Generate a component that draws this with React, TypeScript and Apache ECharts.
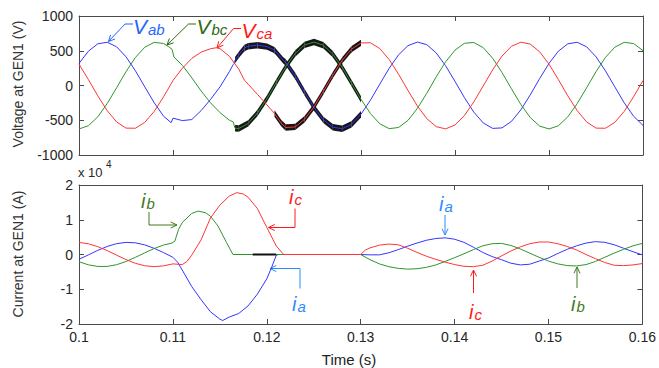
import React, { useEffect, useRef } from 'react';
import * as echarts from 'echarts';

// ---------- data (time in s, voltage in V, current in 1e4 A) ----------
const vab: [number, number][] = [
  [0.100, 318], [0.101, 494], [0.102, 600], [0.103, 622], [0.104, 557], [0.105, 413], [0.106, 212], [0.107, -20],
  [0.108, -248], [0.109, -442], [0.1098, -535], [0.1100, -470], [0.111, -505], [0.112, -490], [0.1123, -451],
  [0.113, -360], [0.114, -200], [0.115, -20], [0.116, 200], [0.1164, 300], [0.1165, 317], [0.1166, 365],
  [0.117, 440], [0.1176, 540], [0.118, 565], [0.119, 580], [0.120, 560], [0.1208, 509], [0.1217, 365],
  [0.122, 330], [0.123, 136], [0.124, -98], [0.125, -318], [0.126, -494], [0.127, -600], [0.128, -622],
  [0.129, -557], [0.130, -413], [0.131, -212], [0.132, 20], [0.133, 248], [0.134, 442], [0.135, 574],
  [0.136, 625], [0.137, 588], [0.138, 469], [0.139, 284], [0.140, 59], [0.141, -174], [0.142, -383],
  [0.143, -538], [0.144, -617], [0.145, -610], [0.146, -517], [0.147, -351], [0.148, -136], [0.149, 98],
  [0.150, 318], [0.151, 494], [0.152, 600], [0.153, 622], [0.154, 557], [0.155, 413], [0.156, 212],
  [0.157, -20], [0.158, -248], [0.159, -442], [0.160, -574],
];
const vbc: [number, number][] = [
  [0.100, -625], [0.101, -579], [0.102, -451], [0.103, -260], [0.104, -33], [0.105, 199], [0.106, 403],
  [0.107, 551], [0.108, 621], [0.109, 604], [0.1095, 562], [0.1099, 520], [0.1101, 410], [0.111, 290],
  [0.112, 110], [0.113, -80], [0.114, -250], [0.115, -390], [0.116, -500], [0.1164, -523], [0.1166, -615],
  [0.117, -619], [0.118, -545], [0.119, -393], [0.120, -187], [0.121, 46], [0.122, 272], [0.123, 460],
  [0.124, 584], [0.125, 625], [0.126, 579], [0.127, 451], [0.128, 260], [0.129, 33], [0.130, -199],
  [0.131, -403], [0.132, -551], [0.133, -621], [0.134, -604], [0.135, -502], [0.136, -329], [0.137, -111],
  [0.138, 124], [0.139, 340], [0.140, 509], [0.141, 607], [0.142, 619], [0.143, 545], [0.144, 393],
  [0.145, 187], [0.146, -46], [0.147, -272], [0.148, -460], [0.149, -584], [0.150, -625], [0.151, -579],
  [0.152, -451], [0.153, -260], [0.154, -33], [0.155, 199], [0.156, 403], [0.157, 551], [0.158, 621],
  [0.159, 604], [0.160, 502],
];
const vca: [number, number][] = [
  [0.100, 307], [0.101, 85], [0.102, -149], [0.103, -362], [0.104, -524], [0.105, -613], [0.106, -615],
  [0.107, -531], [0.108, -373], [0.109, -162], [0.110, 72], [0.111, 250], [0.112, 390], [0.113, 480],
  [0.114, 530], [0.1146, 543], [0.115, 530], [0.116, 420], [0.117, 235], [0.1176, 76], [0.118, 18],
  [0.119, -130], [0.120, -280], [0.1208, -403], [0.1215, -540], [0.122, -605], [0.123, -596], [0.124, -486],
  [0.125, -307], [0.126, -85], [0.127, 149], [0.128, 362], [0.129, 524], [0.130, 613], [0.131, 615],
  [0.132, 531], [0.133, 373], [0.134, 162], [0.135, -72], [0.136, -295], [0.137, -477], [0.138, -592],
  [0.139, -624], [0.140, -568], [0.141, -433], [0.142, -236], [0.143, -7], [0.144, 224], [0.145, 423],
  [0.146, 563], [0.147, 623], [0.148, 596], [0.149, 486], [0.150, 307], [0.151, 85], [0.152, -149],
  [0.153, -362], [0.154, -524], [0.155, -613], [0.156, -615], [0.157, -531], [0.158, -373], [0.159, -162],
  [0.160, 72],
];

const ia: [number, number][] = [
  [0.100, -0.139], [0.101, -0.011], [0.102, 0.119], [0.103, 0.231], [0.104, 0.312], [0.105, 0.348],
  [0.106, 0.336], [0.107, 0.277], [0.108, 0.178], [0.109, 0.055], [0.110, -0.08], [0.1105, -0.22],
  [0.111, -0.45], [0.112, -0.92], [0.113, -1.3], [0.114, -1.65], [0.115, -1.86], [0.1153, -1.9],
  [0.116, -1.8], [0.117, -1.7], [0.118, -1.48], [0.119, -1.14], [0.120, -0.7], [0.1205, -0.38],
  [0.121, -0.03], [0.1212, 0], [0.130, 0], [0.131, -0.01], [0.132, -0.01], [0.133, 0.05], [0.134, 0.14],
  [0.135, 0.24], [0.136, 0.33], [0.137, 0.41], [0.138, 0.46], [0.139, 0.48], [0.140, 0.44], [0.141, 0.35],
  [0.142, 0.21], [0.143, 0.06], [0.144, -0.06], [0.145, -0.15], [0.146, -0.25], [0.147, -0.3],
  [0.148, -0.28], [0.149, -0.19], [0.150, -0.1], [0.151, 0.03], [0.152, 0.15], [0.153, 0.25],
  [0.154, 0.33], [0.155, 0.37], [0.156, 0.35], [0.157, 0.28], [0.158, 0.18], [0.159, 0.08], [0.160, -0.01],
];
const ib: [number, number][] = [
  [0.100, -0.209], [0.101, -0.297], [0.102, -0.344], [0.103, -0.343], [0.104, -0.294], [0.105, -0.203],
  [0.106, -0.083], [0.107, 0.047], [0.108, 0.172], [0.109, 0.272], [0.1099, 0.33], [0.1102, 0.38],
  [0.1106, 0.72], [0.111, 0.92], [0.112, 1.18], [0.1127, 1.25], [0.1135, 1.2], [0.114, 1.1],
  [0.1148, 0.82], [0.1157, 0.35], [0.1164, 0], [0.130, 0], [0.131, -0.15], [0.132, -0.27], [0.133, -0.35],
  [0.134, -0.4], [0.135, -0.42], [0.136, -0.41], [0.137, -0.37], [0.138, -0.3], [0.139, -0.2],
  [0.140, -0.09], [0.141, 0.02], [0.142, 0.14], [0.143, 0.25], [0.144, 0.31], [0.145, 0.32],
  [0.146, 0.26], [0.147, 0.16], [0.148, 0.04], [0.149, -0.08], [0.150, -0.19], [0.151, -0.27],
  [0.152, -0.32], [0.153, -0.33], [0.154, -0.29], [0.155, -0.2], [0.156, -0.08], [0.157, 0.04],
  [0.158, 0.15], [0.159, 0.25], [0.160, 0.32],
];
const ic: [number, number][] = [
  [0.100, 0.348], [0.101, 0.308], [0.102, 0.226], [0.103, 0.112], [0.104, -0.018], [0.105, -0.146],
  [0.106, -0.253], [0.107, -0.324], [0.108, -0.35], [0.109, -0.327], [0.110, -0.27], [0.111, -0.29],
  [0.1115, -0.2], [0.112, -0.02], [0.113, 0.42], [0.114, 1.05], [0.115, 1.42], [0.116, 1.68],
  [0.1168, 1.78], [0.1175, 1.74], [0.118, 1.65], [0.119, 1.32], [0.120, 0.78], [0.121, 0.25],
  [0.1218, 0], [0.130, 0], [0.1305, 0.13], [0.131, 0.19], [0.132, 0.27], [0.133, 0.3], [0.134, 0.28],
  [0.135, 0.18], [0.136, 0.06], [0.137, -0.05], [0.138, -0.14], [0.139, -0.22], [0.140, -0.29],
  [0.141, -0.34], [0.142, -0.35], [0.143, -0.31], [0.144, -0.19], [0.145, -0.04], [0.146, 0.1],
  [0.147, 0.22], [0.148, 0.31], [0.149, 0.36], [0.150, 0.36], [0.151, 0.31], [0.152, 0.23],
  [0.153, 0.13], [0.154, 0.0], [0.155, -0.12], [0.156, -0.23], [0.157, -0.31], [0.158, -0.32],
  [0.159, -0.3], [0.160, -0.26],
];

// black noisy band intervals on the voltage traces [start, end]
const vabBand = [0.1166, 0.13];
const vbcBand = [0.1166, 0.13];
const vcaBand = [0.1208, 0.13];
// dark segment on the zero current line
const zeroDark: [number, number][] = [[0.1185, 0], [0.121, 0]];

const xMin = 0.1, xMax = 0.16, xStep = 0.01;
const vMin = -1000, vMax = 1000, vStep = 500;
const iMin = -2, iMax = 2, iStep = 1;

const FONT = '"Liberation Sans", Arial, Helvetica, sans-serif';
const BLUE = '#3535ff', GREEN = '#2e962e', RED = '#ff3535';

function bandItems(data: [number, number][], range: number[]) {
  const out: number[][] = [];
  for (let i = 0; i < data.length - 1; i++) {
    const [ta, va] = data[i];
    const [tb, vb] = data[i + 1];
    if (ta >= range[0] - 1e-9 && tb <= range[1] + 1e-9) out.push([ta, va, tb, vb]);
  }
  return out;
}

function arrowHead(tip: number[], from: number[], len = 7, ang = 0.45) {
  const dx = tip[0] - from[0], dy = tip[1] - from[1];
  const a = Math.atan2(dy, dx);
  const p1 = [tip[0] - len * Math.cos(a - ang), tip[1] - len * Math.sin(a - ang)];
  const p2 = [tip[0] - len * Math.cos(a + ang), tip[1] - len * Math.sin(a + ang)];
  return [p1, tip, p2];
}

function arrow(points: number[][], color: string) {
  const n = points.length;
  return [
    { type: 'polyline', shape: { points }, style: { stroke: color, lineWidth: 1, fill: null }, silent: true },
    {
      type: 'polyline',
      shape: { points: arrowHead(points[n - 1], points[n - 2]) },
      style: { stroke: color, lineWidth: 1, fill: null },
      silent: true,
    },
  ];
}

// one rich-text label: large italic symbol with a smaller italic subscript
function label(main: string, sub: string, x: number, baseline: number, color: string, size = 21, subSize = 15) {
  return {
    type: 'text', x, y: baseline + 0.21 * size, silent: true,
    style: {
      text: `{m|${main}}{s|${sub}}`,
      align: 'left',
      verticalAlign: 'bottom',
      rich: {
        m: { fill: color, fontSize: size, fontStyle: 'italic', fontFamily: FONT, verticalAlign: 'bottom', lineHeight: size },
        s: { fill: color, fontSize: subSize, fontStyle: 'italic', fontFamily: FONT, verticalAlign: 'bottom', lineHeight: subSize, padding: [0, 0, 0, 1] },
      },
    },
  };
}

const bandSeries = (data: number[][], gridIdx: number) => ({
  type: 'custom',
  xAxisIndex: gridIdx * 2,
  yAxisIndex: gridIdx * 2,
  dimensions: ['t0', 'v0', 't1', 'v1'],
  encode: { x: [0, 2], y: [1, 3] },
  data,
  z: 1,
  silent: true,
  renderItem: (_p: any, api: any) => {
    const a = api.coord([api.value(0), api.value(1)]);
    const b = api.coord([api.value(2), api.value(3)]);
    const d = 3.2;
    return {
      type: 'polygon',
      shape: { points: [[a[0], a[1] - d], [b[0], b[1] - d], [b[0], b[1] + d], [a[0], a[1] + d]] },
      style: { fill: '#161616' },
    };
  },
});

export default function App() {
  const ref = useRef<HTMLDivElement>(null);
  useEffect(() => {
    if (!ref.current) return;
    const chart = echarts.init(ref.current, undefined, { renderer: 'svg' });
    const axisLine = { show: true, onZero: false, lineStyle: { color: '#4a4a4a', width: 1 } };
    const tick = { show: true, inside: true, length: 5, lineStyle: { color: '#4a4a4a' } };
    const lbl = { fontSize: 14, color: '#262626', fontFamily: FONT, margin: 6, formatter: (v: number) => String(v) };
    const xBase = { type: 'value', min: xMin, max: xMax, interval: xStep, splitLine: { show: false }, axisLine, axisTick: tick };
    const fmtX = (v: number) => String(Number(v.toFixed(2)));
    const yAx = (gi: number, pos: string, mn: number, mx: number, st: number, show: boolean) => ({
      type: 'value', gridIndex: gi, position: pos, min: mn, max: mx, interval: st,
      splitLine: { show: false }, axisLine, axisTick: tick, axisLabel: show ? lbl : { show: false },
    });
    const line = (data: any, color: string, gi: number, z = 3) => ({
      type: 'line', data, xAxisIndex: gi * 2, yAxisIndex: gi * 2, showSymbol: false, symbol: 'none',
      lineStyle: { color, width: 1 }, itemStyle: { color }, z, silent: true,
    });

    const graphic: any[] = [
      {
        type: 'text', x: 18, y: 84, rotation: Math.PI / 2, silent: true,
        style: { text: 'Voltage at GEN1 (V)', fill: '#333', font: `14px ${FONT}`, align: 'center', verticalAlign: 'middle' },
      },
      {
        type: 'text', x: 18, y: 254, rotation: Math.PI / 2, silent: true,
        style: { text: 'Current at GEN1 (A)', fill: '#333', font: `14px ${FONT}`, align: 'center', verticalAlign: 'middle' },
      },
      {
        type: 'text', x: 349, y: 359, silent: true,
        style: { text: 'Time (s)', fill: '#222', font: `15px ${FONT}`, align: 'center', verticalAlign: 'middle' },
      },
      {
        type: 'text', x: 78, y: 172.5, silent: true,
        style: { text: 'x 10', fill: '#262626', font: `13px ${FONT}`, align: 'left', verticalAlign: 'middle' },
      },
      {
        type: 'text', x: 106, y: 164, silent: true,
        style: { text: '4', fill: '#262626', font: `10px ${FONT}`, align: 'left', verticalAlign: 'middle' },
      },
      label('V', 'ab', 133, 32.5, '#1f66ff'),
      ...arrow([[133, 24], [125, 24], [108.5, 41.5]], '#1f66ff'),
      label('V', 'bc', 196.5, 33, '#2f6a12'),
      ...arrow([[196, 24], [188.5, 24], [167, 45]], '#2f6a12'),
      label('V', 'ca', 241.5, 37, '#ff1a1a'),
      ...arrow([[241, 28.5], [233.5, 28.5], [217, 48]], '#ff1a1a'),
      label('i', 'b', 141, 207, '#3f7a1f', 20, 15),
      ...arrow([[149, 212], [149, 225], [177, 225]], '#3f7a1f'),
      label('i', 'c', 289, 203, '#ff1a1a', 20, 15),
      ...arrow([[295, 208.5], [295, 227.5], [268.5, 227.5]], '#ff1a1a'),
      label('i', 'a', 292, 310, '#2b8cff', 20, 15),
      ...arrow([[300, 288.5], [300, 268.5], [270, 268.5]], '#2b8cff'),
      label('i', 'a', 439, 210, '#2b8cff', 20, 15),
      ...arrow([[445, 215], [445, 235]], '#2b8cff'),
      label('i', 'c', 469, 318, '#ff1a1a', 20, 15),
      ...arrow([[473.5, 293], [473.5, 270]], '#ff1a1a'),
      label('i', 'b', 571, 310, '#3f7a1f', 20, 15),
      ...arrow([[577, 288], [577, 267]], '#3f7a1f'),
    ];

    chart.setOption({
      animation: false,
      backgroundColor: '#ffffff',
      grid: [
        { left: 79, top: 16, width: 564, height: 139 },
        { left: 79, top: 185, width: 564, height: 139 },
      ],
      xAxis: [
        { ...xBase, gridIndex: 0, position: 'bottom', axisLabel: { show: false } },
        { ...xBase, gridIndex: 0, position: 'top', axisLabel: { show: false } },
        { ...xBase, gridIndex: 1, position: 'bottom', axisLabel: { ...lbl, formatter: fmtX } },
        { ...xBase, gridIndex: 1, position: 'top', axisLabel: { show: false } },
      ],
      yAxis: [
        yAx(0, 'left', vMin, vMax, vStep, true),
        yAx(0, 'right', vMin, vMax, vStep, false),
        yAx(1, 'left', iMin, iMax, iStep, true),
        yAx(1, 'right', iMin, iMax, iStep, false),
      ],
      series: [
        bandSeries(bandItems(vab, vabBand), 0),
        bandSeries(bandItems(vbc, vbcBand), 0),
        bandSeries(bandItems(vca, vcaBand), 0),
        line(vab, BLUE, 0),
        line(vbc, GREEN, 0),
        line(vca, RED, 0),
        line(ia, BLUE, 1),
        line(ib, GREEN, 1),
        line(ic, RED, 1),
        { ...line(zeroDark, '#111', 1, 4), lineStyle: { color: '#111', width: 2 } },
      ],
      graphic,
    });
    return () => chart.dispose();
  }, []);
  return <div ref={ref} style={{ position: 'absolute', left: 0, top: 0, width: 659, height: 368 }} />;
}
